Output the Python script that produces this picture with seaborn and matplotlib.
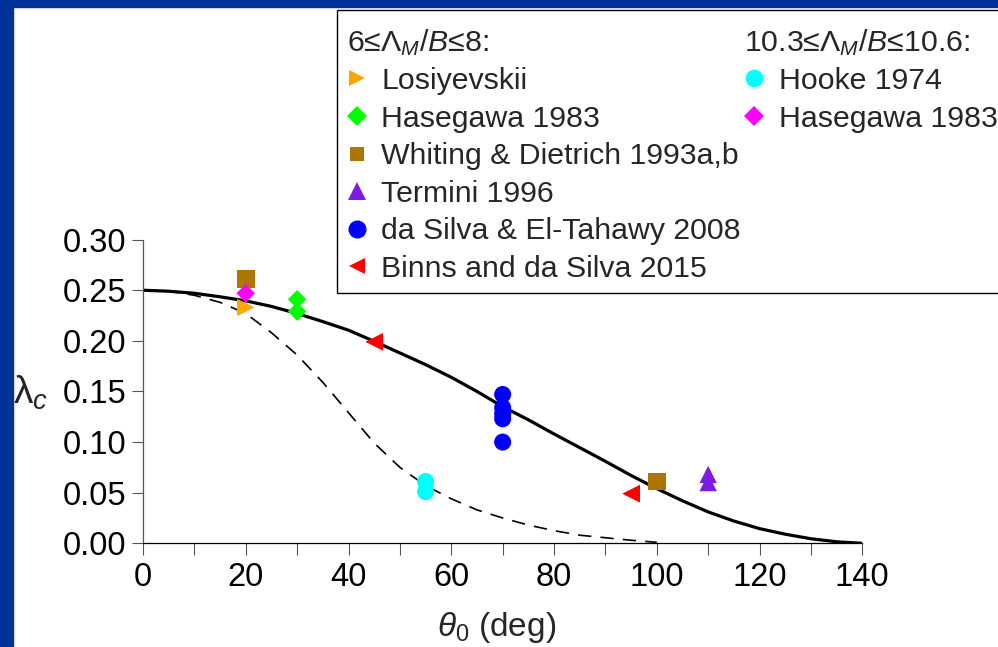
import numpy as np
import pandas as pd
import matplotlib
matplotlib.use("Agg")
import matplotlib.pyplot as plt
import seaborn as sns
from matplotlib.lines import Line2D
from matplotlib.patches import Rectangle
from matplotlib import font_manager

# ---------------- data ----------------
theta_solid = [0, 5, 10, 15, 20, 25, 30, 35, 40, 45, 50, 55, 60, 65, 70,
               75, 80, 85, 90, 95, 100, 105, 110, 115, 120, 125, 130, 135, 140]
lam_solid = [0.250, 0.249, 0.247, 0.2435, 0.2395, 0.234, 0.227, 0.219, 0.2105,
             0.1995, 0.188, 0.1765, 0.164, 0.150, 0.135, 0.122, 0.108, 0.0945,
             0.081, 0.067, 0.054, 0.042, 0.031, 0.022, 0.0145, 0.009, 0.0045,
             0.0015, 0.0]

theta_dash = [0, 5, 10, 15, 20, 25, 30, 35, 40, 45, 50, 55, 60, 65, 70,
              75, 80, 85, 90, 95, 100]
lam_dash = [0.250, 0.249, 0.245, 0.238, 0.227, 0.208, 0.186, 0.159, 0.129,
            0.099, 0.075, 0.057, 0.044, 0.033, 0.025, 0.018, 0.0125, 0.008,
            0.0055, 0.003, 0.001]

losiy_x = [20]
losiy_y = [0.233]
haseg_x = [30, 30]
haseg_y = [0.241, 0.229]
whit_x = [20, 100]
whit_y = [0.261, 0.061]
term_x = [110, 110]
term_y = [0.068, 0.060]
dasil_x = [70, 70, 70, 70, 70]
dasil_y = [0.147, 0.134, 0.128, 0.123, 0.100]
binns_x = [45, 95]
binns_y = [0.199, 0.049]
hooke_x = [55, 55]
hooke_y = [0.061, 0.051]
haseg2_x = [20]
haseg2_y = [0.247]

xticks = [0, 20, 40, 60, 80, 100, 120, 140]
yticks = [0.00, 0.05, 0.10, 0.15, 0.20, 0.25, 0.30]

# ---------------- style ----------------
sns.set_theme(style="ticks")


def has_font(name):
    try:
        font_manager.findfont(name, fallback_to_default=False)
        return True
    except Exception:
        return False


base_font = "Liberation Sans" if has_font("Liberation Sans") else "DejaVu Sans"

plt.rcParams["font.family"] = [base_font, "DejaVu Sans"]
plt.rcParams["mathtext.fontset"] = "custom"
plt.rcParams["mathtext.rm"] = base_font
plt.rcParams["mathtext.it"] = base_font + ":italic"
plt.rcParams["mathtext.bf"] = base_font + ":bold"

W, H = 998, 647
fig = plt.figure(figsize=(W / 100, H / 100), dpi=100)
fig.patch.set_facecolor("white")

# blue frame bands (top and left)
navy = "#003399"
fig.patches.append(Rectangle((0, 1 - 7 / H), 1, 7 / H, transform=fig.transFigure,
                             color=navy, zorder=-10))
fig.patches.append(Rectangle((0, 0), 12.7 / W, 1, transform=fig.transFigure,
                             color=navy, zorder=-10))

x0, x1 = 143 / W, 862.3 / W
y0, y1 = 1 - 543.3 / H, 1 - 239.6 / H
ax = fig.add_axes([x0, y0, x1 - x0, y1 - y0])
ax.set_facecolor("none")

# curves
df_s = pd.DataFrame({"theta": theta_solid, "lam": lam_solid})
df_d = pd.DataFrame({"theta": theta_dash, "lam": lam_dash})
sns.lineplot(data=df_s, x="theta", y="lam", color="black", lw=2.3,
             estimator=None, ax=ax, zorder=2)
sns.lineplot(data=df_d, x="theta", y="lam", color="black", lw=1.2,
             linestyle=(0, (8, 5.5)), estimator=None, ax=ax, zorder=2)

series = [
    (losiy_x, losiy_y, ">", "#FFA500", 156),
    (haseg_x, haseg_y, "D", "#00FF00", 90),
    (whit_x, whit_y, "s", "#AD7600", 165),
    (term_x, term_y, "^", "#7E1BE0", 156),
    (dasil_x, dasil_y, "o", "#0000FF", 150),
    (binns_x, binns_y, "<", "#FF0000", 165),
    (hooke_x, hooke_y, "o", "#00FFFF", 150),
    (haseg2_x, haseg2_y, "D", "#FF00FF", 90),
]
for xs, ys, mk, col, s in series:
    sns.scatterplot(x=xs, y=ys, marker=mk, color=col, s=s, edgecolor="none",
                    linewidth=0, ax=ax, zorder=3, clip_on=False, legend=False)

ax.set_xlim(0, 140)
ax.set_ylim(0, 0.30)
ax.set_xticks(xticks)
ax.set_xticklabels([str(t) for t in xticks])
ax.set_xticks([10, 30, 50, 70, 90, 110, 130], minor=True)
ax.set_yticks(yticks)
ax.set_yticklabels([f"{t:.2f}" for t in yticks])
sns.despine(ax=ax)
ax.spines["left"].set_color("#555555")
ax.spines["bottom"].set_color("black")
ax.spines["left"].set_linewidth(0.9)
ax.spines["bottom"].set_linewidth(0.9)
ax.tick_params(axis="x", which="both", direction="out", length=8.6, width=0.8,
               color="#555555", labelsize=23.5, pad=5, labelcolor="black")
ax.tick_params(axis="y", which="major", direction="out", length=7.7, width=0.8,
               color="#555555", labelsize=23.5, pad=4.3, labelcolor="black")

ax.set_xlabel(r"$\theta_0$ (deg)", fontsize=24, va="baseline", ha="center")
ax.xaxis.set_label_coords((497 - 143) / 719.3, (543.3 - 636) / 303.7)
ax.set_ylabel(r"$\mathrm{\lambda}_c$", fontsize=28, rotation=0,
              va="center", ha="center")
ax.yaxis.set_label_coords((31 - 143) / 719.3, (543.3 - 393) / 303.7)

# legend
blank = Line2D([], [], linestyle="none", marker=None)
def mk(m, c, ms):
    return Line2D([], [], linestyle="none", marker=m, color=c,
                  markeredgewidth=0, markersize=ms)

hdr1 = "6\u2264$\\mathit{\\Lambda}_M$/$B$\u22648:"
hdr2 = "10.3\u2264$\\mathit{\\Lambda}_M$/$B$\u226410.6:"
handles = [blank, mk(">", "#FFA500", 11.5), mk("D", "#00FF00", 10.5),
           mk("s", "#AD7600", 10), mk("^", "#7E1BE0", 12.5),
           mk("o", "#0000FF", 13), mk("<", "#FF0000", 12),
           blank, mk("o", "#00FFFF", 12.7), mk("D", "#FF00FF", 10.5),
           blank, blank, blank, blank]
labels = [hdr1, "Losiyevskii", "Hasegawa 1983", "Whiting & Dietrich 1993a,b",
          "Termini 1996", "da Silva & El-Tahawy 2008", "Binns and da Silva 2015",
          hdr2, "Hooke 1974", "Hasegawa 1983", " ", " ", " ", " "]
leg = fig.legend(handles, labels, ncol=2, loc="upper left",
                 bbox_to_anchor=(336.5 / W, 1 - 10 / H),
                 bbox_transform=fig.transFigure, frameon=True, fancybox=False,
                 framealpha=1, edgecolor="black",
                 prop={"family": [base_font], "size": 21.8},
                 title=" ", title_fontproperties={"size": 1},
                 handlelength=0.67, handletextpad=0.47, columnspacing=0.11,
                 borderpad=0.34, labelspacing=0.315, borderaxespad=0)
leg.get_frame().set_linewidth(1.0)
leg._legend_box.sep = 3.9
for col in leg._legend_handle_box.get_children():
    rows = col.get_children()
    hp = rows[0]
    hp._children = [hp._children[1]]

fig.savefig("out.png", dpi=100, facecolor="white")
